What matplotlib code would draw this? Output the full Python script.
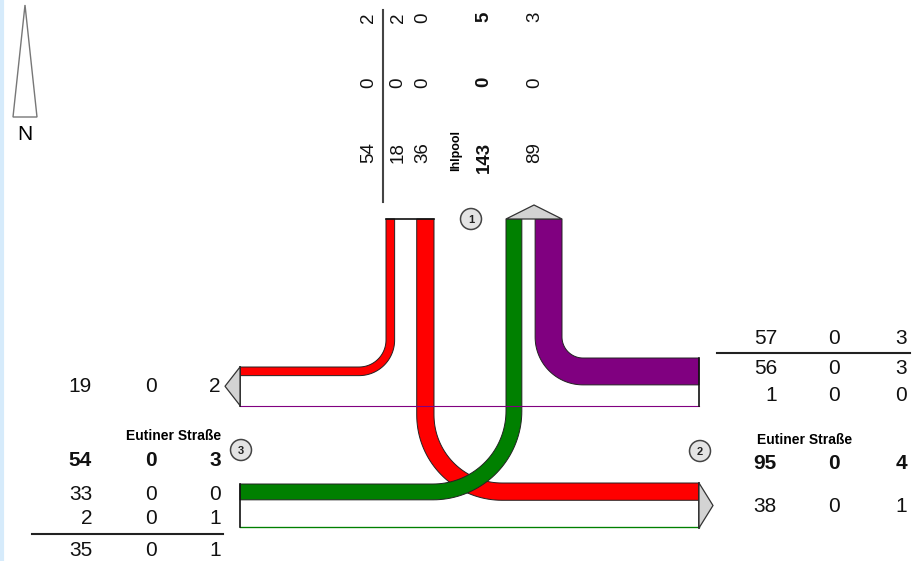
import numpy as np
import matplotlib
matplotlib.use("Agg")
import matplotlib.pyplot as plt
from matplotlib import font_manager
from matplotlib.patches import Polygon, Circle

# Verkehrsstroeme [Kfz, Rad, SV] je Relation
arm_names = ["Ihlpool", "Eutiner Straße", "Eutiner Straße"]
n_to_w = np.array([18, 0, 2])
n_to_e = np.array([36, 0, 0])
w_to_n = np.array([33, 0, 0])
w_to_e = np.array([2, 0, 1])
e_to_n = np.array([56, 0, 3])
e_to_w = np.array([1, 0, 0])

# Summen je Arm
n_in = n_to_w + n_to_e
n_out = w_to_n + e_to_n
w_in = w_to_n + w_to_e
w_out = n_to_w + e_to_w
e_in = e_to_n + e_to_w
e_out = n_to_e + w_to_e

RED, GREEN, PURPLE = "#ff0000", "#008000", "#800080"
ARROW = "#d3d3d3"
S = 0.48  # Pixel je Fahrzeug

names = {f.name for f in font_manager.fontManager.ttflist}
FONT = "Liberation Sans Narrow" if "Liberation Sans Narrow" in names else "Liberation Sans"

fig = plt.figure(figsize=(9.19, 5.61), dpi=100)
ax = fig.add_axes([0, 0, 1, 1])
ax.set_xlim(0, 919)
ax.set_ylim(561, 0)
ax.axis("off")

# Knotenarme (Kanten der Kaesten)
N_IN = (386, 434)
N_OUT = (506, 562)
N_TOP = 219
W_X = 240
W_OUT = (367, 405.5)
W_IN = (484, 526.5)
E_X = 699
E_IN = (358, 405.5)
E_OUT = (483, 528)


def edge(cx, cy, r, a0, a1, p0, p1):
    t = np.radians(np.linspace(a0, a1, 40))
    pts = np.column_stack([cx + r * np.cos(t), cy + r * np.sin(t)])
    first = (pts[0, 0], p0)
    last = (p1, pts[-1, 1])
    return np.vstack([[first], pts, [last]])


def band(cx, cy, r_in, vol, a0, a1, y_end, x_end, color, z):
    w = vol * S
    outer = edge(cx, cy, r_in + w, a0, a1, y_end, x_end)
    inner = edge(cx, cy, r_in, a0, a1, y_end, x_end)
    poly = np.vstack([outer, inner[::-1]])
    ax.add_patch(Polygon(poly, closed=True, fc=color, ec="#222222", lw=0.7, zorder=z))


# Rechtsabbieger Nord -> West
r = 27
band(N_IN[0] - r, W_OUT[0] - r, r, n_to_w[0], 0, 90, N_TOP, W_X, RED, 2)
# Linksabbieger Nord -> Ost
r = 68
band(N_IN[1] + r, E_OUT[0] - r, r, n_to_e[0], 180, 90, N_TOP, E_X, RED, 2)
# Linksabbieger West -> Nord
r = 73
band(N_OUT[0] - r, W_IN[0] - r, r, w_to_n[0], 0, 90, N_TOP, W_X, GREEN, 3)
# Rechtsabbieger Ost -> Nord
r = 21
band(N_OUT[1] + r, E_IN[0] - r, r, e_to_n[0], 180, 90, N_TOP, E_X, PURPLE, 3)

# Geradeausstroeme (duenne Linien)
ax.plot([W_X, E_X], [W_OUT[1], W_OUT[1]], color=PURPLE, lw=max(e_to_w[0] * S, 0.8), zorder=4)
ax.plot([W_X, E_X], [W_IN[1], W_IN[1]], color=GREEN, lw=max(w_to_e[0] * S, 0.8), zorder=4)

# Kastenraender
k = dict(color="#111111", lw=1.2, zorder=5)
ax.plot(N_IN, [N_TOP, N_TOP], **k)
ax.plot([W_X, W_X], W_OUT, **k)
ax.plot([W_X, W_X], W_IN, **k)
ax.plot([E_X, E_X], E_IN, **k)
ax.plot([E_X, E_X], E_OUT, **k)

# Ausfahrtspfeile
pk = dict(closed=True, fc=ARROW, ec="#333333", lw=0.9, zorder=6)
ax.add_patch(Polygon([(N_OUT[0], N_TOP), (sum(N_OUT) / 2, N_TOP - 14), (N_OUT[1], N_TOP)], **pk))
ax.add_patch(Polygon([(W_X, W_OUT[0]), (W_X - 15, sum(W_OUT) / 2), (W_X, W_OUT[1])], **pk))
ax.add_patch(Polygon([(E_X, E_OUT[0]), (E_X + 14, sum(E_OUT) / 2), (E_X, E_OUT[1])], **pk))

# Armnummern
for num, (cx, cy) in zip(["1", "2", "3"], [(471, 219), (700, 451), (241, 450)]):
    ax.add_patch(Circle((cx, cy), 10.5, fc="#e4e4e4", ec="#444444", lw=1.1, zorder=6))
    ax.text(cx, cy + 0.5, num, ha="center", va="center", fontsize=8, fontweight="bold",
            family=FONT, color="#222222", zorder=7)

# Nordpfeil
ax.add_patch(Polygon([(25, 5), (13, 117), (37, 117)], closed=True, fc="white",
                     ec="#777777", lw=1.0, zorder=5))
ax.text(25, 134, "N", ha="center", va="center", fontsize=15, family="Liberation Sans")

# linker Bildrand
ax.plot([1.5, 1.5], [0, 561], color="#d6ebfb", lw=3, zorder=1)


def row(vals, xs, y, bold=False):
    for v, x in zip(vals, xs):
        ax.text(x, y, str(v), ha="right", va="center", fontsize=15, family=FONT,
                fontweight="bold" if bold else "normal", color="#111111")


# West
WX = [92, 157, 221]
row(w_out, WX, 386)
ax.text(174, 436, arm_names[2], ha="center", va="center", fontsize=10,
        fontweight="bold", family=FONT)
row(w_in + w_out, WX, 460, bold=True)
row(w_to_n, WX, 494)
row(w_to_e, WX, 519)
ax.plot([32, 223], [534, 534], color="#222222", lw=1.5)
row(w_in, WX, 550)

# Ost
EX = [777, 840, 907]
row(e_in, EX, 338)
ax.plot([717, 910], [353, 353], color="#222222", lw=1.5)
row(e_to_n, EX, 368)
row(e_to_w, EX, 395)
ax.text(757, 440, arm_names[1], ha="left", va="center", fontsize=10,
        fontweight="bold", family=FONT)
row(e_in + e_out, EX, 463, bold=True)
row(e_out, EX, 507)


# Nord (gedreht)
def col(vals, x, bold=False):
    for v, y in zip(vals, [142, 77, 12]):
        ax.text(x, y, str(v), ha="center", va="top", rotation=90, fontsize=13.5,
                family=FONT, fontweight="bold" if bold else "normal", color="#111111")


col(n_in, 369)
ax.plot([383, 383], [10, 202], color="#444444", lw=1.5)
col(n_to_w, 398)
col(n_to_e, 423)
ax.text(456, 150, arm_names[0], ha="center", va="center", rotation=90, fontsize=9,
        fontweight="bold", family=FONT)
col(n_in + n_out, 484, bold=True)
col(n_out, 535)

fig.savefig("out.png", dpi=100)
